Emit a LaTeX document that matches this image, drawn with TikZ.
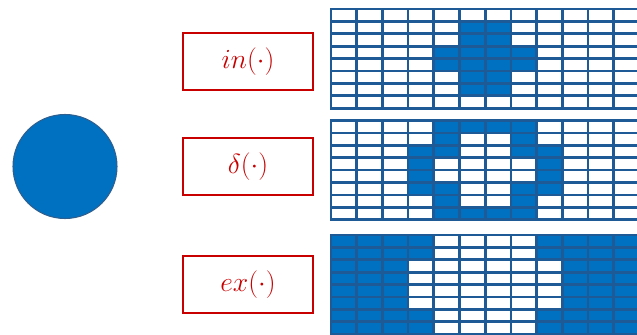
\documentclass[tikz,border=0pt]{standalone}
\usepackage{tikz}
\definecolor{cellblue}{HTML}{0070C0}
\definecolor{cellline}{HTML}{1D5A96}
\definecolor{opred}{HTML}{C80000}
\definecolor{discedge}{HTML}{2E5F8F}

\newcommand{\cellgrid}[4]{%
  \foreach \r in {0,...,7}
    \foreach \c in {0,...,11}
      \draw[cell, fill=#2] (331+\c*25.7, #1+\r*12.4) rectangle ++(25.7,12.4);
  \foreach \r/\a/\b in {#4}
    \foreach \c in {\a,...,\b}
      \draw[cell, fill=#3] (331+\c*25.7, #1+\r*12.4) rectangle ++(25.7,12.4);
}

\begin{document}
\begin{tikzpicture}[x=0.75pt, y=-0.75pt,
  cell/.style={draw=cellline, line width=2pt},
  opbox/.style={draw=opred, line width=1.5pt, fill=white, minimum width=97.5pt, minimum height=42.75pt, inner sep=0pt, text=opred, font=\fontsize{21.5}{25}\selectfont},
  disc/.style={circle, draw=discedge, line width=0.8pt, fill=cellblue, minimum size=78pt, inner sep=0pt}]
  \clip (0,0) rectangle (637,335);

  \node[disc] (blob) at (65,166.5) {};

  \node[opbox] (inop) at (248,61.5) {$in(\cdot)$};
  \node[opbox] (deltaop) at (248,167) {$\delta(\cdot)$};
  \node[opbox] (exop) at (248,284.5) {$ex(\cdot)$};

  \cellgrid{9}{white}{cellblue}{1/5/6, 2/5/6, 3/4/7, 4/4/7, 5/5/6, 6/5/6}
  \cellgrid{120.5}{white}{cellblue}{0/4/7, 1/4/4, 1/7/7, 2/3/4, 2/7/8, 3/3/3, 3/8/8, 4/3/3, 4/8/8, 5/3/4, 5/7/8, 6/4/4, 6/7/7, 7/4/7}
  \cellgrid{235}{cellblue}{white}{0/4/7, 1/4/7, 2/3/8, 3/3/8, 4/3/8, 5/3/8, 6/4/7, 7/4/7}
\end{tikzpicture}
\end{document}
